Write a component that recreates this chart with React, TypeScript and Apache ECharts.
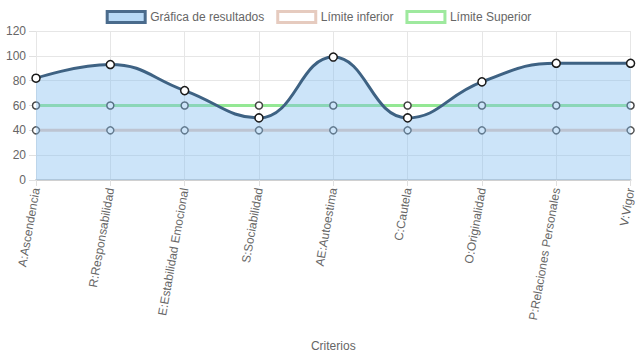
import React, { useEffect, useRef } from "react";
import * as echarts from "echarts";

const categories = [
  "A:Ascendencia",
  "R:Responsabilidad",
  "E:Estabilidad Emocional",
  "S:Sociabilidad",
  "AE:Autoestima",
  "C:Cautela",
  "O:Originalidad",
  "P:Relaciones Personales",
  "V:Vigor",
];
const resultados = [82, 93, 72, 50, 99, 50, 79, 94, 94];
const limiteInferior = [40, 40, 40, 40, 40, 40, 40, 40, 40];
const limiteSuperior = [60, 60, 60, 60, 60, 60, 60, 60, 60];

const FONT = "Arial, 'Liberation Sans', Helvetica, sans-serif";

export default function App() {
  const ref = useRef<HTMLDivElement>(null);
  useEffect(() => {
    document.body.style.margin = "0";
    if (!ref.current) return;
    const chart = echarts.init(ref.current, undefined, { renderer: "svg" });
    chart.setOption({
      animation: false,
      textStyle: { fontFamily: FONT },
      legend: {
        top: 5,
        left: "center",
        itemWidth: 38,
        itemHeight: 11,
        itemGap: 12,
        textStyle: { color: "#666", fontSize: 12, fontFamily: FONT },
        data: [
          {
            name: "Gráfica de resultados",
            icon: "rect",
            itemStyle: { color: "#b8d9f6", borderColor: "#4a6b8c", borderWidth: 3 },
          },
          {
            name: "Límite inferior",
            icon: "rect",
            itemStyle: { color: "#ffffff", borderColor: "#e6cbbf", borderWidth: 3 },
          },
          {
            name: "Límite Superior",
            icon: "rect",
            itemStyle: { color: "#ffffff", borderColor: "#9ee99e", borderWidth: 3 },
          },
        ],
      },
      grid: { left: 36, right: 4, top: 31, bottom: 179, containLabel: false },
      xAxis: {
        type: "category",
        data: categories,
        boundaryGap: false,
        name: "Criterios",
        nameLocation: "middle",
        nameGap: 160,
        nameTextStyle: { color: "#666", fontSize: 12, fontFamily: FONT },
        axisLine: { show: true, lineStyle: { color: "#d0d0d0", width: 2 } },
        axisTick: { show: true, length: 6, alignWithLabel: true, lineStyle: { color: "#e0e0e0" } },
        axisLabel: { rotate: 80, color: "#666", fontSize: 12, margin: 8, fontFamily: FONT, interval: 0 },
        splitLine: { show: true, lineStyle: { color: "#e6e6e6", width: 1 } },
      },
      yAxis: {
        type: "value",
        min: 0,
        max: 120,
        interval: 20,
        axisLine: { show: false },
        axisTick: { show: true, length: 7, lineStyle: { color: "#e0e0e0" } },
        axisLabel: { color: "#666", fontSize: 12, margin: 10, fontFamily: FONT },
        splitLine: { show: true, lineStyle: { color: "#e6e6e6", width: 1 } },
      },
      series: [
        {
          name: "Límite inferior",
          type: "line",
          data: limiteInferior,
          z: 2,
          symbol: "circle",
          symbolSize: 7,
          lineStyle: { color: "#e6cbbf", width: 3 },
          itemStyle: { color: "#ffffff", borderColor: "#555", borderWidth: 1.5 },
        },
        {
          name: "Límite Superior",
          type: "line",
          data: limiteSuperior,
          z: 2,
          symbol: "circle",
          symbolSize: 7,
          lineStyle: { color: "#94e894", width: 3 },
          itemStyle: { color: "#ffffff", borderColor: "#444", borderWidth: 1.5 },
        },
        {
          name: "Gráfica de resultados",
          type: "line",
          data: resultados,
          z: 5,
          smooth: 0.45,
          symbol: "circle",
          symbolSize: 8,
          lineStyle: { color: "#3e6283", width: 3 },
          itemStyle: { color: "#ffffff", borderColor: "#1a1a1a", borderWidth: 1.5 },
          areaStyle: { color: "rgba(125,185,240,0.56)", origin: "start" },
        },
      ],
    });
    return () => chart.dispose();
  }, []);
  return <div ref={ref} style={{ width: 637, height: 359 }} />;
}
